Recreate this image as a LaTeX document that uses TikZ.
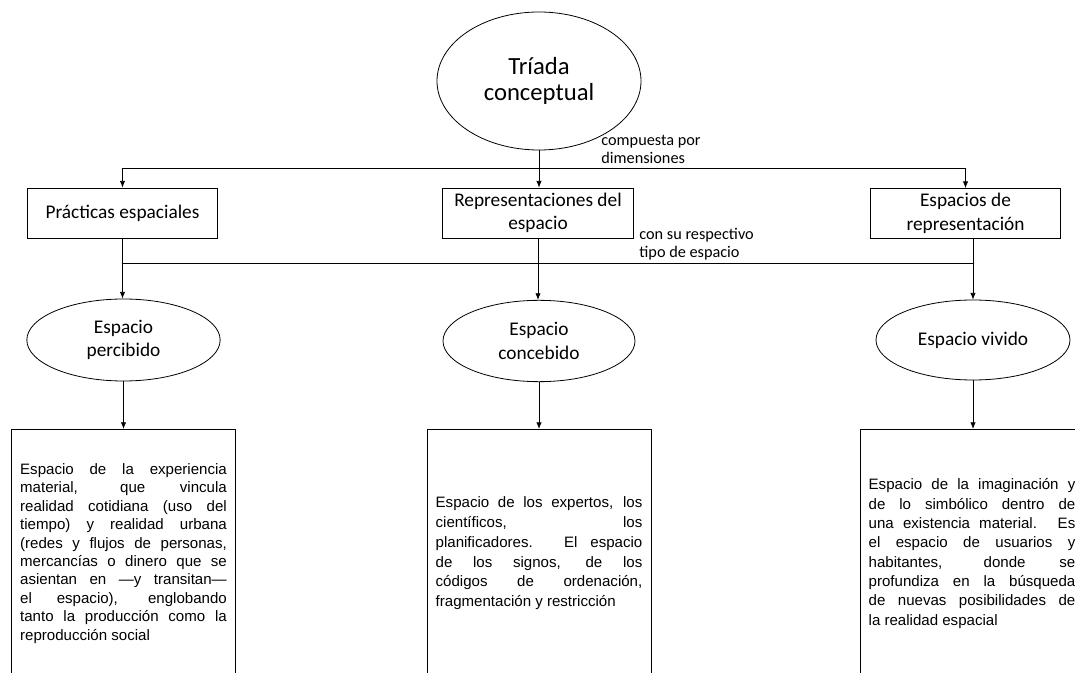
\documentclass[tikz,border=0pt]{standalone}
\usepackage{fontspec}
\setmainfont{Carlito}
\newfontfamily\arialfont{Liberation Sans}
\usetikzlibrary{shapes.geometric,arrows.meta,calc}
\hyphenpenalty=10000
\tolerance=10000

\begin{document}
\begin{tikzpicture}[x=0.75pt,y=-0.75pt,line width=0.6pt,
  every node/.style={inner sep=0pt},
  elli/.style={draw,ellipse,align=center,font=\fontsize{14.5}{17.5}\selectfont},
  dimbox/.style={draw,rectangle,align=center,minimum width=143pt,minimum height=37.5pt,font=\fontsize{14.5}{17.5}\selectfont},
  txtbox/.style={draw,rectangle,anchor=north,text width=155pt,inner xsep=6.5pt,minimum height=186pt,align=justify,font=\arialfont\fontsize{11.3}{13.8}\selectfont},
  lbl/.style={anchor=north west,align=left,font=\fontsize{12.2}{13.5}\selectfont},
  arr/.style={-{Latex[length=5pt,width=4pt]}}]
    \useasboundingbox (0,0) rectangle (1075,673);
    \clip (0,0) rectangle (1075,673);

    % top
    \node (eT) [elli,minimum width=153pt,minimum height=103.5pt,font=\fontsize{18.5}{20}\selectfont] at (539,81) {Tríada\\conceptual};

    % dimensiones
    \node (bP) [dimbox] at (122.5,213) {Prácticas espaciales};
    \node (bR) [dimbox] at (538,213) {Representaciones del\\espacio};
    \node (bE) [dimbox] at (965.5,213.5) {Espacios de\\representación};

    % tipos de espacio
    \node (eP) [elli,minimum width=145pt,minimum height=61.5pt] at (123.5,340) {Espacio\\percibido};
    \node (eC) [elli,minimum width=144pt,minimum height=61pt] at (539,341) {Espacio\\concebido};
    \node (eV) [elli,minimum width=145.5pt,minimum height=60pt] at (973,340) {Espacio vivido};

    % descripciones
    \node (tP) [txtbox] at (123.5,429) {Espacio de la experiencia\linebreak
      material, que vincula\linebreak
      realidad cotidiana (uso del\linebreak
      tiempo) y realidad urbana\linebreak
      (redes y flujos de personas,\linebreak
      mercancías o dinero que se\linebreak
      asientan en —y transitan—\linebreak
      el espacio), englobando\linebreak
      tanto la producción como la\linebreak
      reproducción social};
    \node (tC) [txtbox,font=\arialfont\fontsize{11.3}{14.8}\selectfont] at (539,429) {Espacio de los expertos, los\linebreak
      científicos, los\linebreak
      planificadores. El espacio\linebreak
      de los signos, de los\linebreak
      códigos de ordenación,\linebreak
      fragmentación y restricción};
    \node (tV) [txtbox,font=\arialfont\fontsize{11.3}{14.5}\selectfont] at (972,429) {Espacio de la imaginación y\linebreak
      de lo simbólico dentro de\linebreak
      una existencia material. Es\linebreak
      el espacio de usuarios y\linebreak
      habitantes, donde se\linebreak
      profundiza en la búsqueda\linebreak
      de nuevas posibilidades de\linebreak
      la realidad espacial};

    % labels
    \node (lA) [lbl] at (601,135) {compuesta por\\dimensiones};
    \node (lB) [lbl] at (639,228) {con su respectivo\\tipo de espacio};

    % connectors
    \coordinate (jA) at (539,168);
    \coordinate (jB) at (539,263);
    \draw[arr] (eT.south) -- (eT.south |- bR.north);
    \draw[arr] (jA) -| (bP.north);
    \draw[arr] (jA) -| (bE.north);
    \draw (bP.south |- jB) -- (eV.north |- jB);
    \draw[arr] (bP.south) -- (bP.south |- eP.north);
    \draw[arr] (bR.south) -- (bR.south |- eC.north);
    \draw[arr] (bE.south -| eV.north) -- (eV.north);
    \draw[arr] (eP.south) -- (tP.north);
    \draw[arr] (eC.south) -- (tC.north);
    \draw[arr] (eV.south) -- (eV.south |- tV.north);
\end{tikzpicture}
\end{document}
